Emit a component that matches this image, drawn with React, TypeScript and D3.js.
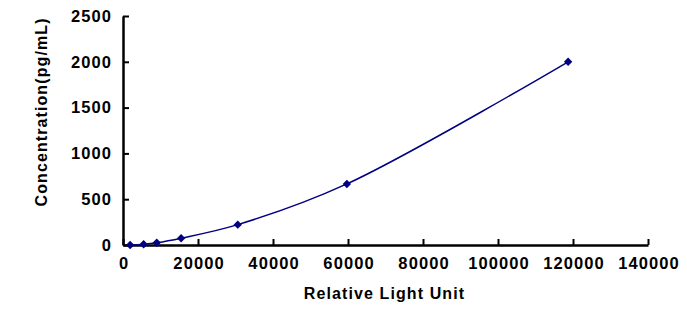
import React, { useEffect, useRef } from "react";
import * as d3 from "d3";

const rlu = [1900, 5500, 9000, 15500, 30600, 59700, 118700];
const conc = [0, 8.23, 24.69, 74.07, 222.22, 666.67, 2000];
const xTicks = [0, 20000, 40000, 60000, 80000, 100000, 120000, 140000];
const yTicks = [0, 500, 1000, 1500, 2000, 2500];

const W = 687;
const H = 313;

const App = () => {
	const ref = useRef<SVGSVGElement>(null);

	useEffect(() => {
		const svg = d3.select(ref.current);
		svg.selectAll("*").remove();

		const x = d3.scaleLinear().domain([0, 140000]).range([123, 648]);
		const y = d3.scaleLinear().domain([0, 2500]).range([245, 16]);
		const font = "Arial, 'Liberation Sans', sans-serif";
		const ls = 1.1; // glyphs in the original are a bit wider than Liberation's

		// x axis
		const gx = svg.append("g").attr("transform", `translate(0, ${y(0)})`)
			.call(d3.axisBottom(x).tickValues(xTicks).tickSizeInner(-6).tickSizeOuter(0).tickFormat(d3.format("d")));
		gx.select(".domain").attr("stroke", "#000").attr("stroke-width", 2.5);
		gx.selectAll(".tick line").attr("stroke", "#000").attr("stroke-width", 2);
		gx.selectAll(".tick text")
			.attr("y", 12).attr("dy", "0.71em").attr("x", ls / 2)
			.style("font-family", font).style("font-weight", "bold").style("font-size", "16.5px")
			.style("letter-spacing", `${ls}px`).attr("fill", "#000");

		// y axis
		const gy = svg.append("g").attr("transform", `translate(${x(0)}, 0)`)
			.call(d3.axisLeft(y).tickValues(yTicks).tickSizeInner(-6).tickSizeOuter(0).tickFormat(d3.format("d")));
		gy.select(".domain").attr("stroke", "#000").attr("stroke-width", 2.5);
		gy.selectAll(".tick line").attr("stroke", "#000").attr("stroke-width", 2);
		gy.selectAll(".tick text")
			.attr("x", -12 + ls)
			.style("font-family", font).style("font-weight", "bold").style("font-size", "16.5px")
			.style("letter-spacing", `${ls}px`).attr("fill", "#000");

		const data = rlu.map((v, i) => ({ x: v, y: conc[i] }));

		const line = d3.line<{ x: number; y: number }>()
			.x(d => x(d.x))
			.y(d => y(d.y))
			.curve(d3.curveCatmullRom.alpha(0.5));

		svg.append("path")
			.datum(data)
			.attr("d", line)
			.attr("fill", "none")
			.attr("stroke", "#000080")
			.attr("stroke-width", 1.5);

		const diamond = d3.symbol().type(d3.symbolDiamond2).size(45);
		svg.selectAll("path.pt")
			.data(data)
			.enter()
			.append("path")
			.attr("class", "pt")
			.attr("d", diamond)
			.attr("transform", d => `translate(${x(d.x)}, ${y(d.y)})`)
			.attr("fill", "#000080");

		svg.append("text")
			.text("Relative Light Unit")
			.attr("x", 384 + ls / 2)
			.attr("y", 299)
			.attr("text-anchor", "middle")
			.style("font-family", font).style("font-weight", "bold").style("font-size", "16px")
			.style("letter-spacing", `${ls}px`);

		svg.append("text")
			.text("Concentration(pg/mL)")
			.attr("transform", `translate(47, ${(y(0) + y(2500)) / 2 - 18 - ls / 2}) rotate(-90)`)
			.attr("text-anchor", "middle")
			.style("font-family", font).style("font-weight", "bold").style("font-size", "16px")
			.style("letter-spacing", `${ls}px`);
	}, []);

	return (
		<svg ref={ref} width={W} height={H}
			style={{ position: "absolute", left: 0, top: 0, background: "#fff" }} />
	);
};

export default App;
